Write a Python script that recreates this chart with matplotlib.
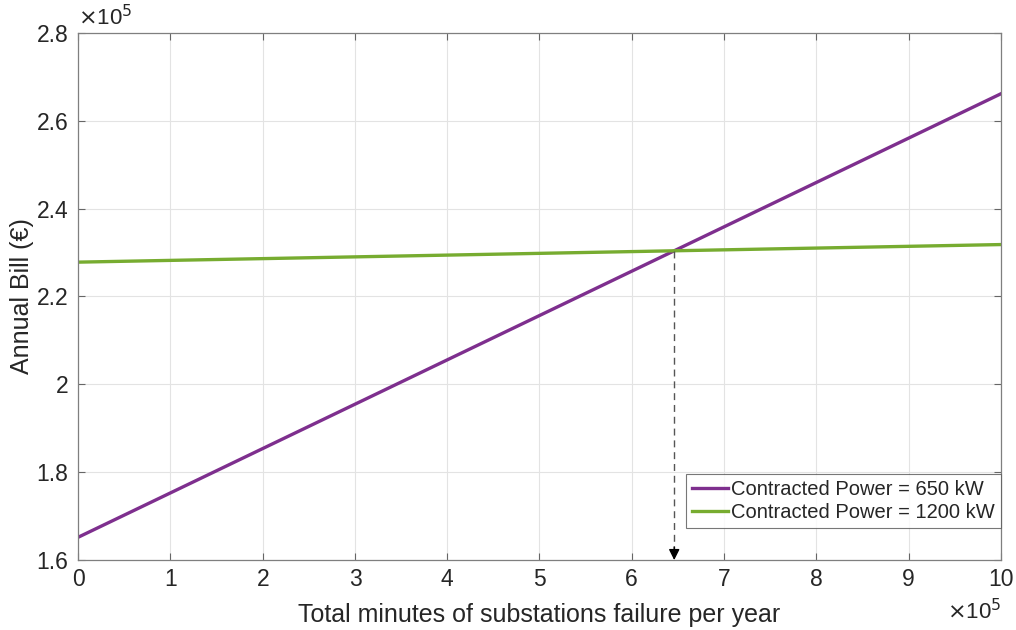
#!/usr/bin/env python3
import numpy as np
import matplotlib
matplotlib.use("Agg")
import matplotlib.pyplot as plt
from matplotlib.ticker import FuncFormatter

# minutes of failure per year (end points of the two linear bills)
minutes = [0, 1.0e6]
bill_650 = [165200, 266100]
bill_1200 = [227800, 231800]
labels = ["Contracted Power = 650 kW", "Contracted Power = 1200 kW"]

plt.rcParams['font.family'] = ['Liberation Sans', 'DejaVu Sans']

fig = plt.figure(figsize=(10.16, 6.3), dpi=100)
ax = fig.add_axes([0.077, 0.111, 0.908, 0.837])

ax.plot(minutes, bill_650, color='#7E2F8E', lw=2.4, label=labels[0])
ax.plot(minutes, bill_1200, color='#77AC30', lw=2.4, label=labels[1])

# crossing point of the two lines
s1 = (bill_650[1] - bill_650[0]) / (minutes[1] - minutes[0])
s2 = (bill_1200[1] - bill_1200[0]) / (minutes[1] - minutes[0])
xi = (bill_1200[0] - bill_650[0]) / (s1 - s2)
yi = bill_650[0] + s1 * xi

ax.set_xlim(0, 1.0e6)
ax.set_ylim(1.6e5, 2.8e5)
ax.plot([xi, xi], [yi, 1.62e5], ls=(0, (5, 3.5)), color='#555555', lw=1)
ax.annotate('', xy=(xi, 1.6e5), xytext=(xi, 1.63e5),
            arrowprops=dict(arrowstyle='-|>', color='black', lw=1,
                            mutation_scale=16, shrinkA=0, shrinkB=0))

ax.set_xticks(np.arange(0, 10.5, 1) * 1e5)
ax.set_yticks(np.arange(1.6, 2.81, 0.2) * 1e5)
fmt = FuncFormatter(lambda v, p: '%g' % round(v / 1e5, 2))
ax.xaxis.set_major_formatter(fmt)
ax.yaxis.set_major_formatter(fmt)
ax.tick_params(direction='in', length=5, width=0.8, colors='#666666',
               labelcolor='#262626', labelsize=16.5, top=True, right=True)
ax.tick_params(axis='x', pad=6)
ax.tick_params(axis='y', pad=7)
ax.grid(True, color='#e3e3e3', lw=0.8)
ax.set_axisbelow(True)
for sp in ax.spines.values():
    sp.set_color('#7f7f7f')
    sp.set_linewidth(0.9)

ax.set_xlabel('Total minutes of substations failure per year', fontsize=18, color='#262626', labelpad=8)
ax.set_ylabel('Annual Bill (€)', fontsize=18, color='#262626', labelpad=2)

ax.text(0.0, 1.005, r'$\times$10$^5$', transform=ax.transAxes, fontsize=16,
        color='#262626', ha='left', va='bottom')
ax.text(1.0, -0.074, r'$\times$10$^5$', transform=ax.transAxes, fontsize=16,
        color='#262626', ha='right', va='top')

leg = ax.legend(loc='lower right', bbox_to_anchor=(1.0, 0.061), fontsize=14.5,
                frameon=True, fancybox=False, edgecolor='#555555', borderaxespad=0,
                handlelength=1.8, handletextpad=0.15, labelspacing=0.2, borderpad=0.3)
leg.get_frame().set_linewidth(0.8)
for t in leg.get_texts():
    t.set_color('#262626')

fig.savefig('out.png', dpi=100)
